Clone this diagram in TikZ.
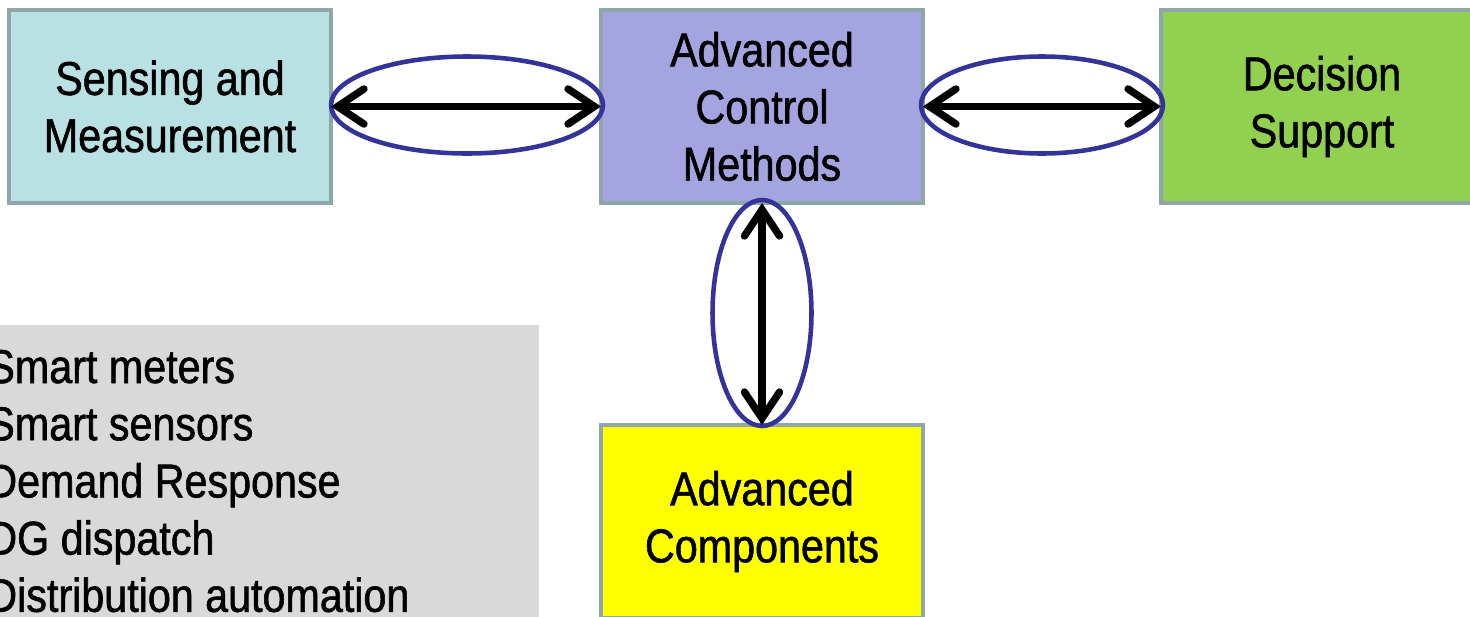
\documentclass[tikz,border=0pt]{standalone}
\usepackage{fontspec}
\setmainfont{Liberation Sans}[FakeStretch=0.87, FakeBold=1.2]
\usetikzlibrary{shapes.geometric,arrows.meta}

\definecolor{sensecol}{RGB}{185,224,227}
\definecolor{ctrlcol}{RGB}{164,164,224}
\definecolor{decidecol}{RGB}{146,208,80}
\definecolor{compcol}{RGB}{255,255,0}
\definecolor{listcol}{RGB}{217,217,217}
\definecolor{framecol}{RGB}{143,167,168}
\definecolor{ringcol}{RGB}{51,51,153}

\tikzset{
  blockbox/.style={draw=framecol, line width=2.3pt, outer sep=0pt,
    minimum width=6.44cm, minimum height=3.86cm, align=center,
    font=\fontsize{27}{32.5}\selectfont},
  ring/.style={ellipse, draw=ringcol, line width=2.6pt, inner sep=0pt, outer sep=0pt},
  link/.style={line width=4.2pt, {Straight Barb[length=15pt,width=20pt,line cap=round]}-{Straight Barb[length=15pt,width=20pt,line cap=round]}},
  listtext/.style={anchor=base west, inner sep=0pt, font=\fontsize{27}{32.5}\selectfont}
}

\begin{document}
\begin{tikzpicture}[x=0.02cm, y=-0.02cm]
    \useasboundingbox (0,0) rectangle (1470,616);
    \begin{scope}
    \clip (0,0) rectangle (1470,616);

    % list panel
    \fill[listcol] (-20,325) rectangle (539,640);
    \foreach \entry [count=\i] in {Smart meters, Smart sensors, Demand Response, DG dispatch, Distribution automation}
      \node[listtext] (item\i) at (-13, {383+57.2*(\i-1)}) {\entry};

    % blocks
    \node[blockbox, fill=sensecol] (sense) at (170,106.5) {Sensing and\\Measurement};
    \node[blockbox, fill=ctrlcol] (ctrl) at (762,106.5) {Advanced\\Control\\Methods};
    \node[blockbox, fill=decidecol] (decide) at (1322,106.5) {Decision\\Support};
    \node[blockbox, fill=compcol] (comp) at (762,521.5) {Advanced\\Components};

    % rings round the links
    \node[ring, minimum width=5.44cm, minimum height=1.94cm] (ringL) at (467,105) {};
    \node[ring, minimum width=4.84cm, minimum height=1.94cm] (ringR) at (1042,105) {};
    \node[ring, minimum width=1.98cm, minimum height=4.52cm] (ringD) at (762,313) {};

    % links
    \draw[link] (sense.east) -- (ctrl.west);
    \draw[link] (ctrl.east) -- (decide.west);
    \draw[link] (ctrl.south) -- (comp.north);
    \end{scope}
\end{tikzpicture}
\end{document}
